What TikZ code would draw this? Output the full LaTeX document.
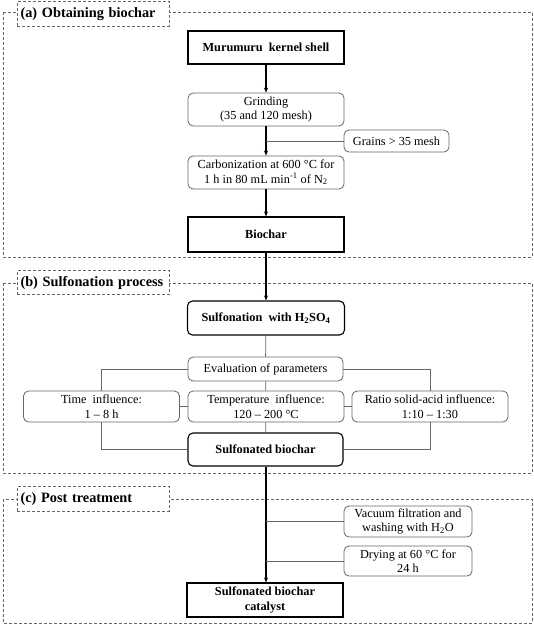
\documentclass[tikz,border=0pt]{standalone}
\usepackage{fontspec}
\setmainfont{Liberation Serif}
\usetikzlibrary{arrows.meta, positioning}

\begin{document}
\begin{tikzpicture}[x=1pt,y=-1pt,
		frame/.style={draw=black!60, densely dashed, line width=0.6pt},
		tag/.style={frame, fill=white, inner xsep=3.5pt, inner ysep=0pt, minimum height=24.5pt, text width=145pt, align=left, font=\bfseries\fontsize{14.3}{16}\selectfont},
		soft/.style={draw=black!60, rounded corners=5pt, line width=0.8pt, inner sep=0pt, align=center, font=\fontsize{12.3}{14.5}\selectfont},
		hard/.style={draw=black, line width=1.1pt, inner sep=0pt, align=center, font=\bfseries\fontsize{12.3}{14.5}\selectfont},
		hardr/.style={hard, rounded corners=5pt},
		flow/.style={-{Stealth[length=5pt,width=4pt]}, line width=1.3pt},
		link/.style={draw=black!60, line width=0.8pt}]
	\useasboundingbox (0,0) rectangle (534,625);
	% dashed frames with their tags
	\foreach \top/\bot/\ty/\nm/\txt in {
		12/257/14/a/(a) Obtaining biochar,
		283/473/282.5/b/(b) Sulfonation process,
		499/623/499/c/(c) Post treatment
	}{
		\draw[frame] (3,\top) rectangle (532,\bot);
		\node[tag] (tag\nm) at (93,\ty) {\mbox{\txt}};
	}
	% (a)
	\node[hard, minimum width=156pt, minimum height=33pt] (shell) at (266,47.5) {Murumuru\ \ kernel shell};
	\node[soft, minimum width=156pt, minimum height=33pt] (grind) at (266,109.5) {Grinding\\(35 and 120 mesh)};
	\node[soft, minimum width=105pt, minimum height=22pt] (grains) at (396.5,141) {Grains > 35 mesh};
	\node[soft, minimum width=156pt, minimum height=33pt] (carb) at (266,172.5) {Carbonization at 600 °C for\\1 h in 80 mL min\textsuperscript{-1} of N\textsubscript{2}};
	\node[hard, minimum width=156pt, minimum height=35pt] (biochar) at (266,234.5) {Biochar};
	% (b)
	\node[hardr, minimum width=157pt, minimum height=34pt] (sulf) at (266,318) {Sulfonation\ \ with H\textsubscript{2}SO\textsubscript{4}};
	\node[soft, minimum width=155pt, minimum height=24pt] (eval) at (265.5,369) {Evaluation of parameters};
	\node[soft, minimum width=156pt, minimum height=31pt] (time) at (101.5,406.5) {Time\ \ influence:\\1 -- 8 h};
	\node[soft, minimum width=156pt, minimum height=31pt] (temp) at (266,406.5) {Temperature\ \ influence:\\120 -- 200 °C};
	\node[soft, minimum width=156pt, minimum height=31pt] (ratio) at (430,406.5) {Ratio solid-acid influence:\\1:10 -- 1:30};
	\node[hardr, minimum width=155pt, minimum height=33pt] (sbio) at (265.5,449.5) {Sulfonated biochar};
	% (c)
	\node[soft, minimum width=128pt, minimum height=31pt] (vac) at (408,521.5) {Vacuum filtration and\\washing with H\textsubscript{2}O};
	\node[soft, minimum width=128pt, minimum height=30pt] (dry) at (408,561) {Drying at 60 °C for\\24 h};
	\node[hard, minimum width=156pt, minimum height=34pt] (cat) at (265,600) {Sulfonated biochar\\catalyst};
	% main flow
	\draw[flow] (shell) -- (grind);
	\draw[flow] (grind) -- (carb);
	\draw[flow] (carb) -- (biochar);
	\draw[flow] (biochar) -- (sulf);
	\draw[flow] (sbio.south -| biochar) -- (cat.north -| biochar);
	% side links
	\draw[link] (grains.west) -- (grains.west -| grind.south);
	\draw[link] (sulf) -- (eval);
	\draw[link] (eval) -- (temp);
	\draw[link] (temp) -- (sbio);
	\draw[link] (time) -- (temp);
	\draw[link] (temp) -- (ratio);
	\draw[link] (eval.west) -| (time.north);
	\draw[link] (eval.east) -| (ratio.north);
	\draw[link] (time.south) |- (sbio.west);
	\draw[link] (ratio.south) |- (sbio.east);
	\draw[link] (vac.west) -- (vac.west -| biochar);
	\draw[link] (dry.west) -- (dry.west -| biochar);
\end{tikzpicture}
\end{document}
